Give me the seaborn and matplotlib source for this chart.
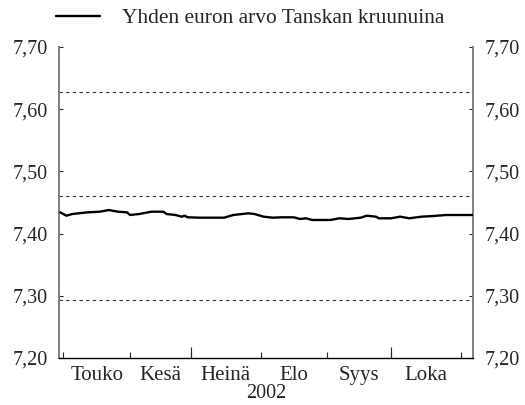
import numpy as np
import pandas as pd
import matplotlib
matplotlib.use("Agg")
import matplotlib.pyplot as plt
import seaborn as sns

# trading-day index (ECB reference days, 0 = 2 May 2002) and EUR/DKK readings
obs_day = [-1, 1, 3, 8, 12, 15, 18, 21, 22, 25, 29, 33, 34, 37, 39, 40, 41, 45,
           53, 56, 61, 63, 66, 69, 72, 76, 78, 80, 82, 88, 91, 94, 98, 100,
           103, 104, 108, 111, 114, 118, 122, 126, 129, 135]
eur_dkk = [7.4342, 7.4288, 7.4315, 7.4342, 7.4352, 7.4379, 7.4352, 7.4342,
           7.4299, 7.4315, 7.4352, 7.4352, 7.4315, 7.4299, 7.4272, 7.4288,
           7.4262, 7.4256, 7.4256, 7.4299, 7.4326, 7.4315, 7.4272, 7.4256,
           7.4262, 7.4262, 7.4235, 7.4246, 7.4219, 7.4219, 7.4246, 7.4235,
           7.4256, 7.4288, 7.4272, 7.4246, 7.4246, 7.4272, 7.4246, 7.4272,
           7.4283, 7.4299, 7.4299, 7.4299]

# ERM II band: upper, central, lower
band = [7.62824, 7.46038, 7.29252]

month_names = ["Touko", "Kesä", "Heinä", "Elo", "Syys", "Loka"]
yticks = [7.20, 7.30, 7.40, 7.50, 7.60, 7.70]

# trading days (TARGET calendar, 1 May closed)
days = pd.bdate_range("2002-05-02", "2002-11-08")
month_start = [int(np.argmax(days.month == m)) for m in range(5, 12)]
mids = [(a + b) / 2 for a, b in zip(month_start[:-1], month_start[1:])]
quarter_start = [month_start[i] for i, m in enumerate(range(5, 12)) if m in (7, 10)]

df = pd.DataFrame({"day": obs_day, "value": eur_dkk})

sns.set_style("ticks")
plt.rcParams["font.family"] = ["Liberation Serif", "DejaVu Serif"]

fig = plt.figure(figsize=(5.25, 4.05), dpi=100)
ax = fig.add_axes([0.113, 0.116, 0.788, 0.768])

for b in band:
    ax.axhline(b, color="#333333", lw=0.8, ls=(0, (3, 3)), zorder=1)

sns.lineplot(data=df, x="day", y="value", color="black", lw=1.7, ax=ax,
             label="Yhden euron arvo Tanskan kruunuina", zorder=3)

ax.set_ylim(7.20, 7.70)
ax.set_xlim(-1.3, 135)
ax.set_yticks(yticks)
ax.set_yticklabels([f"{v:.2f}".replace(".", ",") for v in yticks])
ax.tick_params(axis="y", direction="in", length=3, width=0.8, pad=8,
               labelsize=14.5, left=True, right=True, labelleft=True, labelright=True)

# month labels centred between month boundaries
ax.set_xticks(mids)
ax.set_xticklabels(month_names)
ax.tick_params(axis="x", length=0, pad=6, labelsize=15)
ax.set_xticks(month_start, minor=True)
ax.tick_params(axis="x", which="minor", direction="in", length=4, width=0.8)

# longer ticks at quarter starts
sec = ax.secondary_xaxis("bottom")
sec.set_xticks(quarter_start)
sec.set_xticklabels([])
sec.tick_params(direction="in", length=8, width=0.8)
sec.spines["bottom"].set_visible(False)

ax.set_xlabel("2002", fontsize=14.5, labelpad=-1)
ax.set_ylabel("")

ax.spines["top"].set_visible(False)
for side in ("left", "right"):
    ax.spines[side].set_visible(True)
    ax.spines[side].set_color("#808080")
    ax.spines[side].set_linewidth(1.4)
ax.spines["bottom"].set_color("black")
ax.spines["bottom"].set_linewidth(1.0)

ax.legend(loc="center left", bbox_to_anchor=(0.091, 0.955),
          bbox_transform=fig.transFigure, frameon=False, fontsize=15.4,
          handlelength=2.05, handletextpad=1.0, borderaxespad=0)

fig.savefig("out.png", dpi=100)
